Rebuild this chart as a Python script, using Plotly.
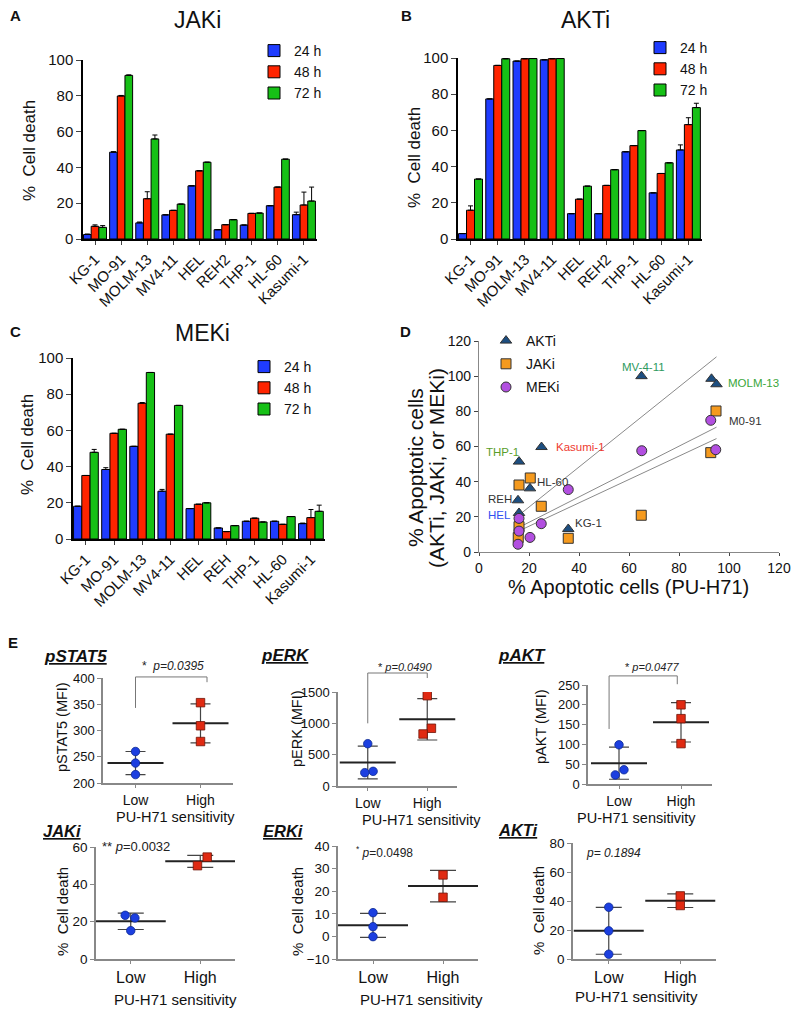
import statistics
import plotly.graph_objects as go

# the page body keeps an 8px margin, so the figure is drawn from (8, 8) of the window
OX, OY = 8, 8
W, H = 784, 1001
FONT = 'Arial, Liberation Sans, sans-serif'

# ---------- A-C: % cell death per cell line ----------
times = ['24 h', '48 h', '72 h']
bar_colors = ['#1f3cff', '#ff2400', '#16c016']

cells_ab = ['KG-1', 'MO-91', 'MOLM-13', 'MV4-11', 'HEL', 'REH2', 'THP-1', 'HL-60', 'Kasumi-1']
cells_c = ['KG-1', 'MO-91', 'MOLM-13', 'MV4-11', 'HEL', 'REH', 'THP-1', 'HL-60', 'Kasumi-1']

jaki_24 = [2.5, 48.5, 9.0, 13.5, 29.7, 5.2, 7.8, 18.6, 13.6]
jaki_48 = [7.1, 79.9, 22.5, 16.0, 38.1, 8.0, 14.3, 29.0, 19.0]
jaki_72 = [6.5, 91.4, 55.9, 19.5, 42.9, 10.8, 14.5, 44.6, 21.2]
jaki_24_sd = [0.3, 0.3, 0.5, 0, 0, 0, 0, 0, 1.4]
jaki_48_sd = [0.8, 0.3, 3.9, 0, 0, 0, 0, 0, 7.2]
jaki_72_sd = [1.0, 0.3, 2.2, 0, 0, 0, 0, 0, 7.8]

akti_24 = [3.0, 77.4, 98.3, 99.0, 14.0, 14.0, 48.2, 25.5, 49.2]
akti_48 = [15.9, 95.9, 99.6, 99.6, 22.0, 29.6, 51.6, 36.2, 63.2]
akti_72 = [33.1, 99.6, 99.7, 99.7, 29.2, 38.3, 59.9, 42.1, 72.6]
akti_24_sd = [0, 0, 0, 0, 0, 0, 0, 0, 2.8]
akti_48_sd = [2.4, 0, 0, 0, 0, 0, 0, 0, 3.8]
akti_72_sd = [0, 0, 0, 0, 0, 0, 0, 0, 2.4]

meki_24 = [18.1, 38.4, 51.2, 26.4, 16.8, 6.1, 9.8, 9.8, 8.5]
meki_48 = [35.1, 58.4, 75.0, 57.9, 19.2, 4.1, 11.5, 8.1, 11.8]
meki_72 = [47.9, 60.6, 92.0, 73.8, 20.0, 7.4, 9.4, 12.4, 15.3]
meki_24_sd = [0, 1.0, 0, 1.0, 0, 0, 0, 0, 0.3]
meki_48_sd = [0, 0, 0.4, 0, 0, 0, 0, 0, 4.5]
meki_72_sd = [1.6, 0, 0, 0, 0, 0, 0, 0, 3.4]

# ---------- D: apoptosis vs PU-H71 ----------
d_akti_pu = [65, 93, 95, 25, 16, 20.4, 15.6, 16, 35.7]
d_akti_apo = [100, 98.5, 95.4, 59.7, 51.4, 36.2, 29.4, 22.2, 13.1]
d_jaki_pu = [94.8, 92.7, 64.9, 16, 20.5, 24.9, 16, 15.7, 35.7]
d_jaki_apo = [80.2, 56.5, 20.9, 38.1, 42.1, 26, 14.4, 8.2, 7.8]
d_meki_pu = [92.7, 94.7, 65.1, 35.7, 16, 16, 24.9, 20.4, 15.6]
d_meki_apo = [74.9, 58.2, 57.6, 35.5, 19.1, 11.9, 16.1, 8.3, 4.4]
fit_x = [16, 95]
fit_akti = [21, 111]
fit_meki = [14, 71]
fit_jaki = [12, 64.5]
d_labels = ['MV-4-11', 'MOLM-13', 'M0-91', 'Kasumi-1', 'THP-1', 'HL-60', 'REH', 'HEL', 'KG-1']
d_label_colors = ['#2e9a5e', '#3aa63a', '#333333', '#ee3b30', '#5a9e2a',
                  '#333333', '#333333', '#2f4ff0', '#333333']
d_label_pos = [(65.6, 105), (109.6, 96), (106.4, 74.5), (40.4, 59.7), (9.6, 57),
               (29.2, 39.8), (8.4, 30), (8.4, 21), (43.6, 16.5)]

# ---------- E: low vs high PU-H71 sensitivity ----------
groups = ['Low', 'High']
pstat5_low = [260, 238, 216]
pstat5_high = [353, 309, 279]
perk_low = [675, 234, 213]
perk_high = [1441, 921, 830]
pakt_low = [99, 36, 23]
pakt_high = [200, 165, 102]
e_jaki_low = [23.4, 22.0, 15.2]
e_jaki_high = [54.6, 50.0]
e_erki_low = [10.5, 4.3, -0.1]
e_erki_high = [27.2, 17.3]
e_akti_low = [35.7, 19.4, 3.3]
e_akti_high = [43.5, 36.9]

fig = go.Figure()


def ax(n):
    return ('x', 'y') if n == 1 else (f'x{n}', f'y{n}')


def fx(x):
    return (x - OX) / W


def fy(y):
    return 1 - (y - OY) / H


def dom_x(a, b):
    return [fx(a), fx(b)]


def dom_y(top, bottom):
    return [fy(bottom), fy(top)]


annotations = []
shapes = []


def text(x, y, s, size, color='#111', angle=0, anchor='center'):
    annotations.append(dict(x=fx(x), y=fy(y), xref='paper', yref='paper', text=s,
                            showarrow=False, textangle=angle, xanchor=anchor, yanchor='middle',
                            font=dict(size=size, color=color, family=FONT)))


# ---- bar panels ----
bar_panels = [
    (1, cells_ab, [jaki_24, jaki_48, jaki_72], [jaki_24_sd, jaki_48_sd, jaki_72_sd], 'legend',
     (83, 317), (60, 239), 'JAKi', (197, 20), 'A', (15, 16), (30, 151), (254, 35)),
    (2, cells_ab, [akti_24, akti_48, akti_72], [akti_24_sd, akti_48_sd, akti_72_sd], 'legend2',
     (458, 702), (58, 239), 'AKTi', (585, 20), 'B', (406, 16), (414, 158), (640, 32)),
    (3, cells_c, [meki_24, meki_48, meki_72], [meki_24_sd, meki_48_sd, meki_72_sd], 'legend3',
     (73, 325), (358, 539), 'MEKi', (202, 333), 'C', (15, 332), (27, 445), (244, 351)),
]

layout_axes = {}
legends = {}
for n, cats, series, sds, leg, xpx, ypx, title, tpos, letter, lpos, ytpos, legpos in bar_panels:
    xa, ya = ax(n)
    for name, vals, sd, color in zip(times, series, sds, bar_colors):
        fig.add_trace(go.Bar(
            x=cats, y=vals, name=name, xaxis=xa, yaxis=ya, legend=leg,
            marker=dict(color=color, line=dict(color='black', width=1)),
            error_y=dict(type='data', array=sd, symmetric=False, arrayminus=[0] * len(sd),
                         color='black', thickness=1, width=2.5),
        ))
    key = '' if n == 1 else str(n)
    layout_axes['xaxis' + key] = dict(
        domain=dom_x(*xpx), anchor=ya, type='category', range=[-0.46, 8.5], automargin=False,
        tickangle=-45, ticks='outside', ticklen=4, showline=True, linecolor='black',
        linewidth=1.5, tickfont=dict(size=15, color='#111'), showgrid=False)
    layout_axes['yaxis' + key] = dict(
        domain=dom_y(*ypx), anchor=xa, range=[0, 100], dtick=20, ticks='outside', ticklen=5,
        showline=True, linecolor='black', linewidth=1.5, tickfont=dict(size=15, color='#111'),
        showgrid=False, zeroline=False, automargin=False)
    legends[leg] = dict(x=fx(legpos[0]), y=fy(legpos[1]), xanchor='left', yanchor='top',
                        font=dict(size=14, color='#111', family=FONT), bgcolor='rgba(0,0,0,0)',
                        tracegroupgap=0, itemwidth=30)
    text(tpos[0], tpos[1], title, 23)
    text(lpos[0], lpos[1], f'<b>{letter}</b>', 15)
    text(ytpos[0], ytpos[1], '%\u00a0\u00a0Cell death', 17, angle=-90)

# ---- panel D ----
d_specs = [
    ('AKTi', d_akti_pu, d_akti_apo, 'triangle-up', '#1d4e80'),
    ('JAKi', d_jaki_pu, d_jaki_apo, 'square', '#f59a1e'),
    ('MEKi', d_meki_pu, d_meki_apo, 'circle', '#b24fe0'),
]
for fit_y in (fit_akti, fit_meki, fit_jaki):
    fig.add_trace(go.Scatter(x=fit_x, y=fit_y, mode='lines', line=dict(color='#8a8a8a', width=1),
                             xaxis='x4', yaxis='y4', showlegend=False, hoverinfo='skip'))
for name, xs, ys, sym, col in d_specs:
    fig.add_trace(go.Scatter(x=xs, y=ys, mode='markers', name=name, xaxis='x4', yaxis='y4',
                             legend='legend4', legendgroup=name,
                             marker=dict(symbol=sym, size=10, color=col,
                                         line=dict(color='#333', width=1))))
for lab, col, (lx, ly) in zip(d_labels, d_label_colors, d_label_pos):
    annotations.append(dict(x=lx, y=ly, xref='x4', yref='y4', text=lab, showarrow=False,
                            xanchor='center', font=dict(size=11.5, color=col, family=FONT)))
layout_axes['xaxis4'] = dict(domain=dom_x(479, 779), anchor='y4', range=[0, 120], dtick=20,
                             ticks='outside', ticklen=3, showline=True, linecolor='#888',
                             linewidth=1.2, tickfont=dict(size=14, color='#111'),
                             showgrid=False, zeroline=False, automargin=False)
layout_axes['yaxis4'] = dict(domain=dom_y(341, 552), anchor='x4', range=[0, 120], dtick=20,
                             ticks='outside', ticklen=4, showline=True, linecolor='#888',
                             linewidth=1.2, tickfont=dict(size=14, color='#111'),
                             showgrid=False, zeroline=False, automargin=False)
legends['legend4'] = dict(x=fx(486), y=fy(325), xanchor='left', yanchor='top',
                          font=dict(size=14, color='#111', family=FONT), bgcolor='rgba(0,0,0,0)',
                          tracegroupgap=2, itemwidth=30)
text(405, 332, '<b>D</b>', 15)
text(415, 468, '% Apoptotic cells', 21, angle=-90)
text(436, 468, '(AKTi, JAKi, or MEKi)', 21, angle=-90)
text(628, 587, '% Apoptotic cells (PU-H71)', 20)

# ---- panel E ----
jitter = {
    'perk_low': [0, 0.09, -0.05], 'perk_high': [0, 0.07, -0.07],
    'pakt_low': [0, 0.08, -0.06], 'jaki_low': [-0.08, 0.06, 0], 'jaki_high': [0.1, -0.04],
}
e_panels = [
    dict(n=5, title='pSTAT5', ytitle='pSTAT5 (MFI)', low=pstat5_low, high=pstat5_high,
         jl=None, jh=None, xpx=(103, 233), ypx=(678, 783), yr=(200, 400), dt=50, top=True,
         tpos=(75, 656), ypos=(62, 727), xtpos=(175, 817),
         ptext='*\u00a0\u00a0<i>p=0.0395</i>', ppos=(0.57, 423), psize=12,
         bracket=(0, 1.1, 343, 402, 392)),
    dict(n=6, title='pERK', ytitle='pERK (MFI)', low=perk_low, high=perk_high,
         jl='perk_low', jh='perk_high', xpx=(338, 457), ypx=(692, 786), yr=(0, 1500), dt=500,
         top=True, tpos=(285, 655), ypos=(297, 729), xtpos=(422, 820),
         ptext='* <i>p=0.0490</i>', ppos=(0.63, 1900), psize=11,
         bracket=(0, 1.0, 1000, 1803, 1723)),
    dict(n=7, title='pAKT', ytitle='pAKT (MFI)', low=pakt_low, high=pakt_high,
         jl='pakt_low', jh=None, xpx=(588, 712), ypx=(685, 784), yr=(0, 250), dt=50, top=True,
         tpos=(522, 655), ypos=(541, 727), xtpos=(636, 818),
         ptext='* <i>p=0.0477</i>', ppos=(0.54, 295), psize=11,
         bracket=(-0.16, 0.94, 139, 273, 252)),
    dict(n=8, title='JAKi', ytitle='%\u00a0\u00a0Cell death', low=e_jaki_low, high=e_jaki_high,
         jl='jaki_low', jh='jaki_high', xpx=(96, 235), ypx=(847, 959), yr=(0, 60), dt=20,
         top=False, tpos=(62, 831), ypos=(62, 911), xtpos=(175, 999),
         ptext='** <i>p</i>=0.0032', ppos=(0.07, 60.5), psize=13, bracket=None),
    dict(n=9, title='ERKi', ytitle='%\u00a0\u00a0Cell death', low=e_erki_low, high=e_erki_high,
         jl=None, jh=None, xpx=(338, 478), ypx=(846, 959), yr=(-10, 40), dt=10, top=False,
         tpos=(283, 831), ypos=(297, 912), xtpos=(422, 999),
         ptext='<sup>*</sup> <i>p</i>=0.0498', ppos=(0.16, 37.5), psize=12, bracket=None),
    dict(n=10, title='AKTi', ytitle='%\u00a0\u00a0Cell death', low=e_akti_low, high=e_akti_high,
         jl=None, jh=None, xpx=(573, 716), ypx=(843, 959), yr=(0, 80), dt=20, top=False,
         tpos=(518, 830), ypos=(538, 911), xtpos=(636, 996),
         ptext='<i>p= 0.1894</i>', ppos=(0.06, 73), psize=12, bracket=None),
]

for p in e_panels:
    n = p['n']
    xa, ya = ax(n)
    big = not p['top']
    (px0, px1), (ptop, pbot) = p['xpx'], p['ypx']
    lo, hi = p['yr']

    def xp(v, px0=px0, px1=px1):
        return fx(px0 + (v + 0.5) / 2.0 * (px1 - px0))

    def yp(v, lo=lo, hi=hi, ptop=ptop, pbot=pbot):
        return fy(pbot - (v - lo) / (hi - lo) * (pbot - ptop))

    for gi, vals, jkey, sym, col, edge in (
            (0, p['low'], p['jl'], 'circle', '#1c3fe0', '#0d2a90'),
            (1, p['high'], p['jh'], 'square', '#e02a12', '#6e1408')):
        m = statistics.mean(vals)
        sd = statistics.stdev(vals)
        fig.add_trace(go.Scatter(
            x=[gi], y=[m], mode='markers', xaxis=xa, yaxis=ya, showlegend=False,
            marker=dict(symbol='line-ew', size=50 if big else 40, color='#222',
                        line=dict(color='#222', width=2)),
            error_y=dict(type='data', array=[sd], color='#444', thickness=1.2,
                         width=13 if big else 10)))
        offs = jitter[jkey] if jkey else [0] * len(vals)
        fig.add_trace(go.Scatter(
            x=[gi + o for o in offs], y=vals, mode='markers', xaxis=xa, yaxis=ya,
            showlegend=False,
            marker=dict(symbol=sym, size=8.5, color=col, line=dict(color=edge, width=0.8))))
    key = str(n)
    layout_axes['xaxis' + key] = dict(
        domain=dom_x(px0, px1), anchor=ya, range=[-0.5, 1.5], tickvals=[0, 1], ticktext=groups,
        ticks='outside', ticklen=3, tickcolor='#888', showline=True, linecolor='#888',
        linewidth=1.5, tickfont=dict(size=16 if big else 14, color='#111'), showgrid=False,
        zeroline=False, automargin=False)
    layout_axes['yaxis' + key] = dict(
        domain=dom_y(ptop, pbot), anchor=xa, range=[lo, hi], dtick=p['dt'],
        ticks='outside', ticklen=4, tickcolor='#888', showline=True, linecolor='#888',
        linewidth=1.5, tickfont=dict(size=13.5 if big else 13, color='#111'), showgrid=False,
        zeroline=False, automargin=False)
    text(p['tpos'][0], p['tpos'][1], f"<b><i><u>{p['title']}</u></i></b>",
         16.5 if big else 17)
    text(p['ypos'][0], p['ypos'][1], p['ytitle'], 15 if big else 14.5, angle=-90)
    text(p['xtpos'][0], p['xtpos'][1], 'PU-H71 sensitivity', 15 if big else 14.5)
    annotations.append(dict(x=xp(p['ppos'][0]), y=yp(p['ppos'][1]), xref='paper', yref='paper',
                            text=p['ptext'], showarrow=False, xanchor='center', yanchor='middle',
                            font=dict(size=p['psize'], color='#222', family=FONT)))
    if p['bracket']:
        x0, x1, yb, yt, yr_ = p['bracket']
        shapes.append(dict(type='path', xref='paper', yref='paper',
                           path=f'M{xp(x0)},{yp(yb)} L{xp(x0)},{yp(yt)} '
                                f'L{xp(x1)},{yp(yt)} L{xp(x1)},{yp(yr_)}',
                           line=dict(color='#777', width=1)))

text(13, 642, '<b>E</b>', 15)

fig.update_layout(
    template='none',
    width=W, height=H, margin=dict(l=0, r=0, t=0, b=0, pad=0),
    paper_bgcolor='white', plot_bgcolor='white',
    font=dict(family=FONT, color='#111'),
    barmode='group', bargap=0.12, bargroupgap=0,
    annotations=annotations, shapes=shapes,
    **layout_axes, **legends,
)

fig.write_html('out.html')
